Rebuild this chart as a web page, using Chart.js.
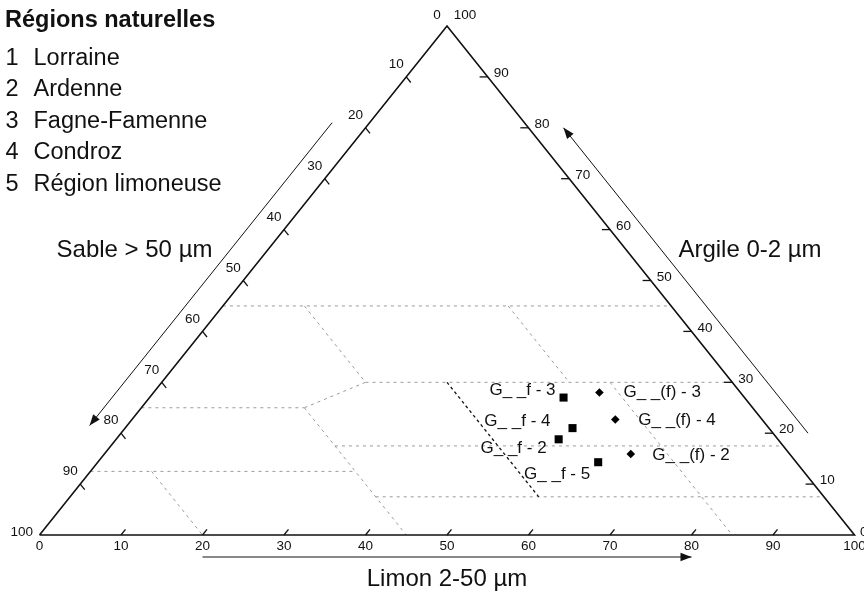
<!DOCTYPE html>
<html><head><meta charset="utf-8">
<script src="https://cdn.jsdelivr.net/npm/chart.js@4.4.0/dist/chart.umd.min.js"></script>
<style>html,body{margin:0;padding:0;background:#fff;}canvas{display:block;}</style>
</head><body>
<canvas id="c" width="864" height="592"></canvas>
<script>
// ---------------- data ----------------
const legendTitle = 'Régions naturelles';
const regionNumbers = ['1', '2', '3', '4', '5'];
const regionNames = ['Lorraine', 'Ardenne', 'Fagne-Famenne', 'Condroz', 'Région limoneuse'];

const axisTitleSand = 'Sable > 50 µm';
const axisTitleClay = 'Argile 0-2 µm';
const axisTitleSilt = 'Limon 2-50 µm';

const axisTickValues = [0, 10, 20, 30, 40, 50, 60, 70, 80, 90, 100];
const axisTickLabels = ['0', '10', '20', '30', '40', '50', '60', '70', '80', '90', '100'];

// samples: % clay and % silt (sand = 100 - clay - silt)
const squareLabels = ['G_ _f - 3', 'G_ _f - 4', 'G_ _f - 2', 'G_ _f - 5'];
const squareClay = [27.0, 21.0, 18.8, 14.3];
const squareSilt = [50.8, 54.9, 54.3, 61.4];

const diamondLabels = ['G_ _(f) - 3', 'G_ _(f) - 4', 'G_ _(f) - 2'];
const diamondClay = [28.0, 22.7, 15.9];
const diamondSilt = [54.7, 59.3, 64.6];

// texture class boundaries, endpoints as [clay, sand]
const classBoundaries = [
  [[45, 55], [45, 0]],
  [[30, 45], [30, 0]],
  [[25, 75], [25, 55]],
  [[17.5, 55], [17.5, 0]],
  [[12.5, 87.5], [12.5, 55]],
  [[7.5, 55], [7.5, 0]],
  [[45, 45], [30, 45]],
  [[30, 45], [25, 55]],
  [[25, 55], [0, 55]],
  [[12.5, 80], [0, 80]],
  [[45, 20], [30, 20]],
  [[30, 15], [0, 15]]
];
const separatorBoundary = [[30, 35], [7.5, 35]];

// arrow extents along the axes (axis values)
const sandArrowClay = [81, 21.5];
const clayArrowClay = [20, 80];
const siltArrowSilt = [20, 80];

// ---------------- helpers ----------------
const tern = (clay, silt) => ({ x: silt + clay / 2, y: clay });
const fromSand = (clay, sand) => tern(clay, 100 - clay - sand);

// label offsets (pixels) for the sample labels
const squareLabelOffsets = [[-8, -2.5], [-22, -2.5], [-12, 14], [-8, 16.5]];
const diamondLabelOffsets = [[24, 5], [23, 5.5], [21.5, 6]];

const FONT = '"Liberation Sans", Arial, Helvetica, sans-serif';

const datasets = [];
datasets.push({
  label: 'G__f',
  data: squareClay.map((c, i) => tern(c, squareSilt[i])),
  pointStyle: 'rect', pointRadius: 5.7, pointBackgroundColor: '#000', pointBorderWidth: 0,
  showLine: false, order: 0, clip: false
});
datasets.push({
  label: 'G__(f)',
  data: diamondClay.map((c, i) => tern(c, diamondSilt[i])),
  pointStyle: 'rectRot', pointRadius: 4.3, pointBackgroundColor: '#000', pointBorderWidth: 0,
  showLine: false, order: 0, clip: false
});
datasets.push({
  label: 'triangle',
  data: [tern(0, 0), tern(0, 100), tern(100, 0), tern(0, 0)],
  showLine: true, borderColor: '#111', borderWidth: 1.6, pointRadius: 0, order: 1, clip: false,
  borderJoinStyle: 'miter'
});
datasets.push({
  label: 'separator',
  data: separatorBoundary.map(p => fromSand(p[0], p[1])),
  showLine: true, borderColor: '#111', borderWidth: 1.3, borderDash: [3, 3], pointRadius: 0, order: 2, clip: false
});
classBoundaries.forEach((seg, i) => {
  datasets.push({
    label: 'b' + i,
    data: seg.map(p => fromSand(p[0], p[1])),
    showLine: true, borderColor: '#9a9a9a', borderWidth: 1, borderDash: [3, 4], pointRadius: 0, order: 3, clip: false
  });
});

function line(ctx, a, b) { ctx.beginPath(); ctx.moveTo(a.x, a.y); ctx.lineTo(b.x, b.y); ctx.stroke(); }
function arrow(ctx, a, b) {
  line(ctx, a, b);
  const ang = Math.atan2(b.y - a.y, b.x - a.x), L = 11, W = 4.2;
  ctx.beginPath();
  ctx.moveTo(b.x, b.y);
  ctx.lineTo(b.x - L * Math.cos(ang) + W * Math.sin(ang), b.y - L * Math.sin(ang) - W * Math.cos(ang));
  ctx.lineTo(b.x - L * Math.cos(ang) - W * Math.sin(ang), b.y - L * Math.sin(ang) + W * Math.cos(ang));
  ctx.closePath(); ctx.fill();
}

const decor = {
  id: 'decor',
  beforeDraw(chart) {
    const ctx = chart.ctx;
    ctx.save(); ctx.fillStyle = '#fff'; ctx.fillRect(0, 0, chart.width, chart.height); ctx.restore();
  },
  afterDatasetsDraw(chart) {
    const ctx = chart.ctx, xs = chart.scales.x, ys = chart.scales.y;
    const P = p => ({ x: xs.getPixelForValue(p.x), y: ys.getPixelForValue(p.y) });
    ctx.save();
    ctx.strokeStyle = '#111'; ctx.fillStyle = '#111'; ctx.lineWidth = 1.3;
    // ticks
    axisTickValues.forEach(v => {
      if (v === 0 || v === 100) return;
      line(ctx, P(tern(0, v)), P(tern(1.1, v)));               // silt (bottom)
      line(ctx, P(fromSand(100 - v, v)), P(fromSand(100 - v - 1.1, v))); // sand (left)
      line(ctx, P(fromSand(v, 0)), P(fromSand(v, 1)));           // clay (right)
    });
    // tick labels
    ctx.font = '13.5px ' + FONT;
    axisTickValues.forEach((v, i) => {
      const t = axisTickLabels[i];
      const b = P(tern(0, v));
      ctx.textAlign = 'center'; ctx.textBaseline = 'alphabetic';
      ctx.fillText(t, b.x, b.y + 15);
      const l = P(fromSand(100 - v, v));
      ctx.textBaseline = 'middle';
      if (v === 100) { ctx.textAlign = 'right'; ctx.fillText(t, l.x - 6.5, l.y - 3); }
      else if (v === 0) { ctx.textAlign = 'center'; ctx.fillText(t, l.x - 10, l.y - 11); }
      else { ctx.textAlign = 'center'; ctx.fillText(t, l.x - 10, l.y - 12.5); }
      const r = P(fromSand(v, 0));
      if (v === 100) { ctx.textAlign = 'center'; ctx.fillText(t, r.x + 18, r.y - 11); }
      else if (v === 0) { ctx.textAlign = 'left'; ctx.fillText(t, r.x + 5.5, r.y - 3); }
      else { ctx.textAlign = 'left'; ctx.fillText(t, r.x + 6, r.y - 3.5); }
    });
    // arrows
    ctx.lineWidth = 1;
    const off = (p, dx, dy) => ({ x: p.x + dx, y: p.y + dy });
    arrow(ctx, off(P(tern(sandArrowClay[0], 0)), -37.5, 0), off(P(tern(sandArrowClay[1], 0)), -37.5, 0));
    arrow(ctx, off(P(tern(clayArrowClay[0], 100 - clayArrowClay[0])), 35, 0), off(P(tern(clayArrowClay[1], 100 - clayArrowClay[1])), 35, 0));
    arrow(ctx, off(P(tern(0, siltArrowSilt[0])), 0, 22), off(P(tern(0, siltArrowSilt[1])), 0, 22));
    // axis titles
    ctx.font = '24px ' + FONT; ctx.textBaseline = 'alphabetic'; ctx.textAlign = 'center';
    ctx.fillText(axisTitleSand, 134.5, 256.5);
    ctx.fillText(axisTitleClay, 750, 256.5);
    const mid = P(tern(0, 50));
    ctx.fillText(axisTitleSilt, mid.x, 585.5);
    // legend
    ctx.textAlign = 'left';
    ctx.font = 'bold 23.5px ' + FONT;
    ctx.fillText(legendTitle, 5, 27);
    ctx.font = '23.5px ' + FONT;
    regionNames.forEach((n, i) => {
      const y = 65 + i * 31.4;
      ctx.fillText(regionNumbers[i], 5.5, y);
      ctx.fillText(n, 33.5, y);
    });
    // sample labels
    ctx.font = '17px ' + FONT;
    const m0 = chart.getDatasetMeta(0), m1 = chart.getDatasetMeta(1);
    ctx.textAlign = 'right';
    m0.data.forEach((el, i) => ctx.fillText(squareLabels[i], el.x + squareLabelOffsets[i][0], el.y + squareLabelOffsets[i][1]));
    ctx.textAlign = 'left';
    m1.data.forEach((el, i) => ctx.fillText(diamondLabels[i], el.x + diamondLabelOffsets[i][0], el.y + diamondLabelOffsets[i][1]));
    ctx.restore();
  }
};

new Chart(document.getElementById('c'), {
  type: 'scatter',
  data: { datasets },
  options: {
    responsive: false, animation: false, events: [],
    layout: { padding: { left: 39.5, right: 9.5, top: 26, bottom: 57 } },
    scales: {
      x: { type: 'linear', min: 0, max: 100, display: false },
      y: { type: 'linear', min: 0, max: 100, display: false }
    },
    plugins: { legend: { display: false }, tooltip: { enabled: false } }
  },
  plugins: [decor]
});
</script>
</body></html>
